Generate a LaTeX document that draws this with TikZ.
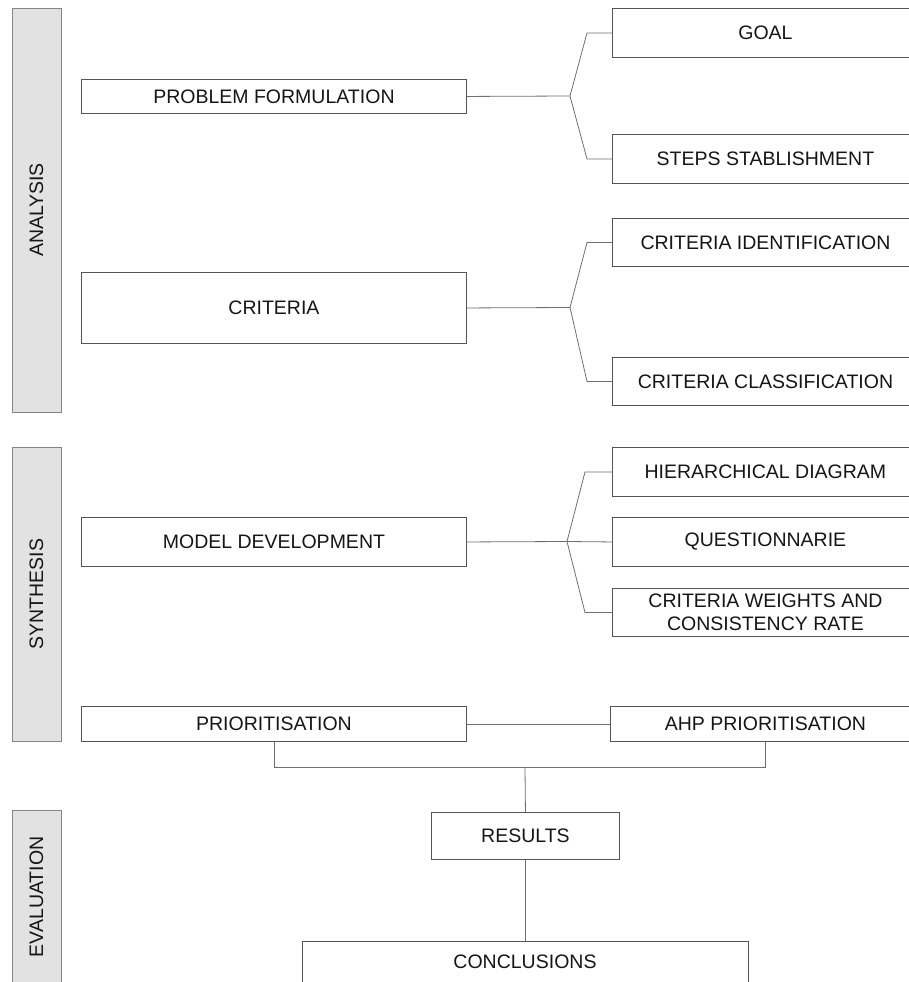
\documentclass[tikz,border=0pt]{standalone}
\usepackage{fontspec}
\setmainfont{Liberation Sans}
\definecolor{boxline}{HTML}{555555}
\definecolor{conline}{HTML}{6E6E6E}
\definecolor{barfill}{HTML}{E2E2E2}
\definecolor{barline}{HTML}{858585}
\definecolor{txt}{HTML}{151515}
\begin{document}
\begin{tikzpicture}[x=1pt,y=-1pt,
  box/.style={draw=boxline, line width=0.9pt, fill=white, anchor=north west, inner sep=0pt,
    align=center, text=txt, font=\fontsize{19.5}{22.5}\selectfont},
  bar/.style={draw=barline, line width=0.9pt, fill=barfill, rotate=90, inner sep=0pt,
    minimum height=49, text=txt, font=\fontsize{19.5}{22.5}\selectfont},
  con/.style={draw=conline, line width=0.8pt}]
\useasboundingbox (0,0) rectangle (909,982);
\clip (0,0) rectangle (909,982);
% side bars
\node[bar, minimum width=404] (ana) at (36.5,210) {ANALYSIS};
\node[bar, minimum width=294] (syn) at (36.5,594) {SYNTHESIS};
\node[bar, minimum width=174] (eva) at (36.5,897) {EVALUATION};
% left boxes
\node[box, minimum width=385, minimum height=34] (pf) at (81,79) {PROBLEM FORMULATION};
\node[box, minimum width=385, minimum height=71] (cr) at (81,272) {CRITERIA};
\node[box, minimum width=385, minimum height=49] (md) at (81,517) {MODEL DEVELOPMENT};
\node[box, minimum width=385, minimum height=35] (pr) at (81,706) {PRIORITISATION};
% right boxes
\node[box, minimum width=306, minimum height=49] (goal) at (612,8) {GOAL};
\node[box, minimum width=306, minimum height=49] (steps) at (612,134) {STEPS STABLISHMENT};
\node[box, minimum width=306, minimum height=48] (cid) at (612,218) {CRITERIA IDENTIFICATION};
\node[box, minimum width=306, minimum height=48] (ccl) at (612,357) {CRITERIA CLASSIFICATION};
\node[box, minimum width=306, minimum height=49] (hd) at (612,447) {HIERARCHICAL DIAGRAM};
\node[box, minimum width=306, minimum height=49] (qu) at (612,517) {QUESTIONNARIE};
\node[box, minimum width=306, minimum height=48] (cw) at (612,588) {CRITERIA WEIGHTS AND\\CONSISTENCY RATE};
\node[box, minimum width=310, minimum height=35] (ahp) at (610,706) {AHP PRIORITISATION};
% bottom boxes
\node[box, minimum width=188, minimum height=47] (res) at (431,812) {RESULTS};
\node[box, minimum width=446, minimum height=80, text depth=0pt] (con) at (302,941) {};
\node[text=txt, font=\fontsize{19.5}{22.5}\selectfont, inner sep=0pt] (contxt) at (525,962) {CONCLUSIONS};
% connectors: problem formulation
\coordinate (b1) at (570,96);
\draw[con] (pf.east) -- (b1);
\draw[con] (b1) -- ([xshift=-25pt]goal.west) -- (goal.west);
\draw[con] (b1) -- ([xshift=-25pt]steps.west) -- (steps.west);
% criteria
\coordinate (b2) at (570,307.5);
\draw[con] (cr.east) -- (b2);
\draw[con] (b2) -- ([xshift=-25pt]cid.west) -- (cid.west);
\draw[con] (b2) -- ([xshift=-25pt]ccl.west) -- (ccl.west);
% model development
\coordinate (b3) at (567,541.5);
\draw[con] (md.east) -- (b3) -- (qu.west);
\draw[con] (b3) -- ([xshift=-27pt]hd.west) -- (hd.west);
\draw[con] (b3) -- ([xshift=-27pt]cw.west) -- (cw.west);
% prioritisation
\draw[con] (pr.east) -- (ahp.west);
\coordinate (j) at (525,767);
\draw[con] (pr.south) -- (pr.south |- j) -- (ahp.south |- j) -- (ahp.south);
\draw[con] (j) -- (res.north);
\draw[con] (res.south) -- (con.north);
\end{tikzpicture}
\end{document}
